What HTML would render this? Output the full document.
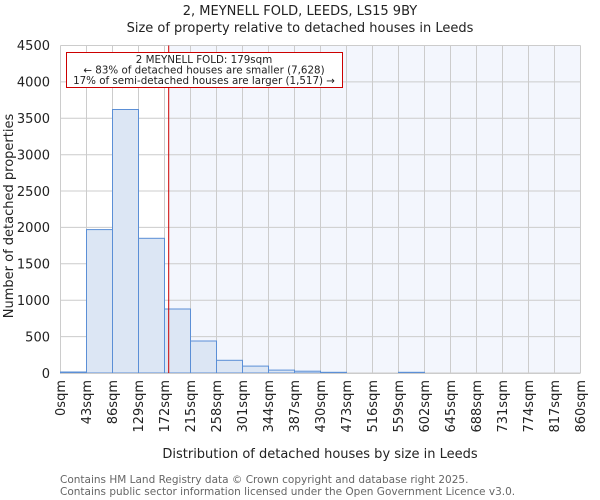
<!DOCTYPE html>
<html><head><meta charset="utf-8"><style>body{margin:0;background:#fff}svg{display:block;font-family:"DejaVu Sans","Liberation Sans",sans-serif}</style></head>
<body>
<svg width="600" height="500" viewBox="0 0 600 500" xmlns="http://www.w3.org/2000/svg">
<text x="300" y="15" text-anchor="middle" font-size="13" fill="#222">2, MEYNELL FOLD, LEEDS, LS15 9BY</text>
<text x="300" y="32" text-anchor="middle" font-size="13" fill="#222">Size of property relative to detached houses in Leeds</text>
<rect x="168.7" y="45.5" width="411.8" height="327.5" fill="#f3f6fd"/>
<g stroke="#cccccc" stroke-width="1">
<line x1="60.5" x2="580.5" y1="373" y2="373"/><line x1="60.5" x2="580.5" y1="336.6" y2="336.6"/><line x1="60.5" x2="580.5" y1="300.2" y2="300.2"/><line x1="60.5" x2="580.5" y1="263.8" y2="263.8"/><line x1="60.5" x2="580.5" y1="227.4" y2="227.4"/><line x1="60.5" x2="580.5" y1="191" y2="191"/><line x1="60.5" x2="580.5" y1="154.7" y2="154.7"/><line x1="60.5" x2="580.5" y1="118.3" y2="118.3"/><line x1="60.5" x2="580.5" y1="81.9" y2="81.9"/><line x1="60.5" x2="580.5" y1="45.5" y2="45.5"/>
<line x1="60.5" x2="60.5" y1="45.5" y2="373"/><line x1="86.5" x2="86.5" y1="45.5" y2="373"/><line x1="112.5" x2="112.5" y1="45.5" y2="373"/><line x1="138.5" x2="138.5" y1="45.5" y2="373"/><line x1="164.5" x2="164.5" y1="45.5" y2="373"/><line x1="190.5" x2="190.5" y1="45.5" y2="373"/><line x1="216.5" x2="216.5" y1="45.5" y2="373"/><line x1="242.5" x2="242.5" y1="45.5" y2="373"/><line x1="268.5" x2="268.5" y1="45.5" y2="373"/><line x1="294.5" x2="294.5" y1="45.5" y2="373"/><line x1="320.5" x2="320.5" y1="45.5" y2="373"/><line x1="346.5" x2="346.5" y1="45.5" y2="373"/><line x1="372.5" x2="372.5" y1="45.5" y2="373"/><line x1="398.5" x2="398.5" y1="45.5" y2="373"/><line x1="424.5" x2="424.5" y1="45.5" y2="373"/><line x1="450.5" x2="450.5" y1="45.5" y2="373"/><line x1="476.5" x2="476.5" y1="45.5" y2="373"/><line x1="502.5" x2="502.5" y1="45.5" y2="373"/><line x1="528.5" x2="528.5" y1="45.5" y2="373"/><line x1="554.5" x2="554.5" y1="45.5" y2="373"/><line x1="580.5" x2="580.5" y1="45.5" y2="373"/>
</g>
<g fill="#dce6f4" stroke="#5b8fd6" stroke-width="1">
<rect x="60.5" y="372" width="26" height="1"/>
<rect x="86.5" y="229.6" width="26" height="143.4"/>
<rect x="112.5" y="109.5" width="26" height="263.5"/>
<rect x="138.5" y="238.3" width="26" height="134.7"/>
<rect x="164.5" y="309" width="26" height="64"/>
<rect x="190.5" y="341" width="26" height="32"/>
<rect x="216.5" y="360.3" width="26" height="12.7"/>
<rect x="242.5" y="366.1" width="26" height="6.9"/>
<rect x="268.5" y="370.1" width="26" height="2.9"/>
<rect x="294.5" y="371.2" width="26" height="1.8"/>
<rect x="320.5" y="372.3" width="26" height="0.7"/>
<rect x="398.5" y="372.3" width="26" height="0.7"/>
</g>
<line x1="60.5" x2="580.5" y1="373.5" y2="373.5" stroke="#cccccc"/>
<line x1="168.7" x2="168.7" y1="45.5" y2="373" stroke="#cc0000" stroke-width="1"/>
<rect x="66.5" y="52.5" width="276" height="35" fill="#fff" stroke="#cc0000" stroke-width="1"/>
<g font-size="10.3" fill="#222" text-anchor="middle">
<text x="204" y="63">2 MEYNELL FOLD: 179sqm</text>
<text x="204" y="73.5">← 83% of detached houses are smaller (7,628)</text>
<text x="204" y="84">17% of semi-detached houses are larger (1,517) →</text>
</g>
<g font-size="13" fill="#222" text-anchor="end">
<text x="50" y="378">0</text><text x="50" y="341.5">500</text><text x="50" y="305">1000</text><text x="50" y="268.5">1500</text><text x="50" y="232">2000</text><text x="50" y="196">2500</text><text x="50" y="159.5">3000</text><text x="50" y="123">3500</text><text x="50" y="86.5">4000</text><text x="50" y="50">4500</text>
</g>
<text transform="translate(13,216) rotate(-90)" text-anchor="middle" font-size="13" fill="#222">Number of detached properties</text>
<g font-size="13" fill="#222" text-anchor="end">
<text transform="translate(65,380) rotate(-90)">0sqm</text>
<text transform="translate(91,380) rotate(-90)">43sqm</text>
<text transform="translate(117,380) rotate(-90)">86sqm</text>
<text transform="translate(143,380) rotate(-90)">129sqm</text>
<text transform="translate(169,380) rotate(-90)">172sqm</text>
<text transform="translate(195,380) rotate(-90)">215sqm</text>
<text transform="translate(221,380) rotate(-90)">258sqm</text>
<text transform="translate(247,380) rotate(-90)">301sqm</text>
<text transform="translate(273,380) rotate(-90)">344sqm</text>
<text transform="translate(299,380) rotate(-90)">387sqm</text>
<text transform="translate(325,380) rotate(-90)">430sqm</text>
<text transform="translate(351,380) rotate(-90)">473sqm</text>
<text transform="translate(377,380) rotate(-90)">516sqm</text>
<text transform="translate(403,380) rotate(-90)">559sqm</text>
<text transform="translate(429,380) rotate(-90)">602sqm</text>
<text transform="translate(455,380) rotate(-90)">645sqm</text>
<text transform="translate(481,380) rotate(-90)">688sqm</text>
<text transform="translate(507,380) rotate(-90)">731sqm</text>
<text transform="translate(533,380) rotate(-90)">774sqm</text>
<text transform="translate(559,380) rotate(-90)">817sqm</text>
<text transform="translate(585,380) rotate(-90)">860sqm</text>
</g>
<text x="320" y="458" text-anchor="middle" font-size="13" fill="#222">Distribution of detached houses by size in Leeds</text>
<text x="60" y="483" font-size="10.5" fill="#666">Contains HM Land Registry data © Crown copyright and database right 2025.</text>
<text x="60" y="495" font-size="10.5" fill="#666">Contains public sector information licensed under the Open Government Licence v3.0.</text>
</svg>
</body></html>
